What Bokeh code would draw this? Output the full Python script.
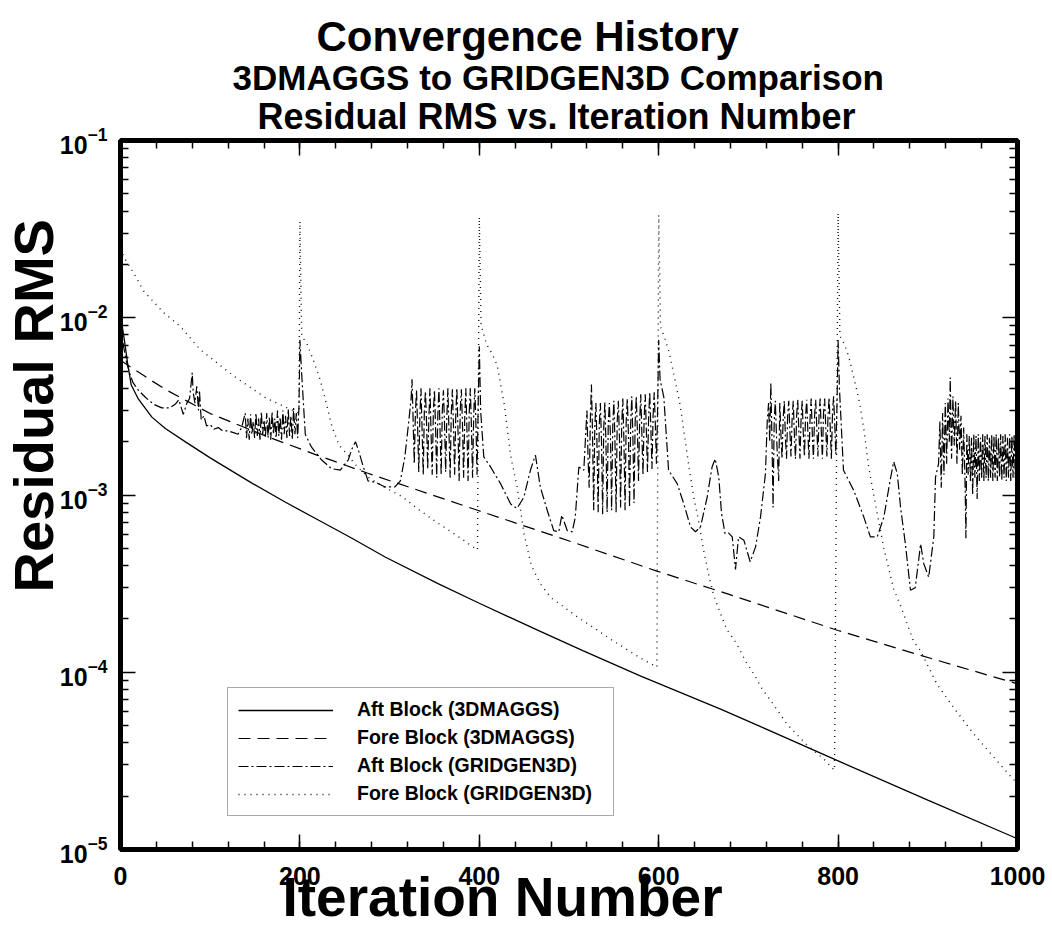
import math
from bokeh.plotting import figure
from bokeh.models import (Range1d, LinearAxis, LogAxis, FixedTicker, SingleIntervalTicker,
                          LogTickFormatter, Title, CustomJSTickFormatter)
from bokeh.embed import file_html
from bokeh.resources import INLINE

FONT = "Liberation Sans"

# ---------------- texts ----------------
TITLE = "Convergence History"
SUBTITLE_1 = "3DMAGGS to GRIDGEN3D Comparison"
SUBTITLE_2 = "Residual RMS vs. Iteration Number"
X_LABEL = "Iteration Number"
Y_LABEL = "Residual RMS"
NAMES = ["Aft Block (3DMAGGS)", "Fore Block (3DMAGGS)",
         "Aft Block (GRIDGEN3D)", "Fore Block (GRIDGEN3D)"]

# ---------------- axes ----------------
X_RANGE = (0, 1000)
Y_RANGE = (1e-5, 1e-1)
X_TICK_STEP = 200
Y_TICKS = [1e-5, 1e-4, 1e-3, 1e-2, 1e-1]
Y_MINOR = [m * 10.0 ** e for e in (-5, -4, -3, -2) for m in range(2, 10)]

# ---------------- data ----------------
AFT_3DM_IT = [0, 2, 5, 8, 12, 20, 35, 50, 72, 100, 146, 184, 221, 258, 295,
              354, 400, 468, 516, 580, 669, 713, 800, 900, 1000]
AFT_3DM_RMS = [9.55e-3, 8.9e-3, 7.08e-3, 5.5e-3, 4.17e-3, 3.47e-3, 2.75e-3, 2.37e-3,
               2.0e-3, 1.62e-3, 1.17e-3, 9.1e-4, 7.2e-4, 5.7e-4, 4.47e-4,
               3.16e-4, 2.45e-4, 1.7e-4, 1.32e-4, 9.5e-5, 6.2e-5, 4.95e-5,
               3.16e-5, 1.9e-5, 1.15e-5]

FORE_3DM_IT = [0, 15, 33, 52, 100, 163, 219, 275, 345, 398, 487, 598, 669,
               702, 800, 892, 1000]
FORE_3DM_RMS = [5.75e-3, 5.13e-3, 4.47e-3, 3.89e-3, 2.88e-3, 2.14e-3, 1.68e-3,
                1.33e-3, 1.01e-3, 8.2e-4, 5.8e-4, 3.72e-4, 2.85e-4, 2.51e-4,
                1.72e-4, 1.245e-4, 8.6e-5]

# Aft Block (GRIDGEN3D): (iteration, residual in units of 1e-3)
AFT_GG_START = [(0, 9.1), (3, 7.1), (6, 5.8), (10, 4.9), (14, 4.3), (20, 3.9),
                (28, 3.55), (37, 3.25), (46, 3.1), (55, 3.1), (61, 3.25),
                (65, 3.45), (70, 2.85), (74, 3.3), (77, 3.5), (80, 4.9),
                (81, 3.8), (83, 3.3), (85, 4.1), (87, 3.0), (88, 3.9),
                (90, 2.65), (93, 2.8), (96, 2.45), (100, 2.5), (104, 2.35),
                (109, 2.4), (114, 2.3), (120, 2.3), (126, 2.25), (131, 2.2),
                (135, 2.4)]
AFT_GG_BAND1 = [(139, 2.9), (140.5, 2.1), (142, 2.7), (143.5, 2.05), (145, 2.85),
                (146.5, 2.2), (148, 2.6), (149.5, 2.1), (151, 2.9), (152.5, 2.15),
                (154, 2.7), (155.5, 2.05), (157, 2.95), (158.5, 2.2), (160, 2.65),
                (161.5, 2.1), (163, 2.9), (164.5, 2.1), (166, 2.75), (167.5, 2.05),
                (169, 2.95), (170.5, 2.2), (172, 2.7), (173.5, 2.1), (175, 3.0),
                (176.5, 2.15), (178, 2.75), (179.5, 2.05), (181, 3.0), (182.5, 2.2),
                (184, 2.8), (185.5, 2.1), (187, 3.05), (188.5, 2.15), (190, 2.8),
                (191.5, 2.05), (193, 3.1), (194.5, 2.2), (196, 2.9), (197.5, 2.1),
                (199, 3.2), (200, 7.5)]
AFT_GG_GAP1 = [(202, 4.8), (206, 2.2), (213, 1.86), (224, 1.58), (235, 1.41),
               (245, 1.38), (254, 1.58), (258, 1.82), (262, 2.0), (266, 1.74),
               (270, 1.48), (276, 1.2), (284, 1.18), (295, 1.11), (306, 1.11),
               (312, 1.2), (317, 1.64), (321, 2.5), (324, 3.5)]
AFT_GG_BAND2 = [(325, 4.5), (326.25, 2.6), (327.5, 1.5), (328.75, 2.9), (330, 3.9),
                (331.25, 2.4), (332.5, 1.35), (333.75, 2.8), (335, 4.0), (336.25, 2.3),
                (337.5, 1.3), (338.75, 3.0), (340, 3.85), (341.25, 2.5), (342.5, 1.4),
                (343.75, 2.7), (345, 4.0), (346.25, 2.2), (347.5, 1.3), (348.75, 2.9),
                (350, 3.9), (351.25, 2.4), (352.5, 1.25), (353.75, 2.8), (355, 4.0),
                (356.25, 2.3), (357.5, 1.3), (358.75, 3.0), (360, 3.9), (361.25, 2.5),
                (362.5, 1.35), (363.75, 2.7), (365, 4.0), (366.25, 2.2), (367.5, 1.25),
                (368.75, 2.9), (370, 3.95), (371.25, 2.4), (372.5, 1.3), (373.75, 2.8),
                (375, 4.0), (376.25, 2.3), (377.5, 1.2), (378.75, 3.0), (380, 3.95),
                (381.25, 2.5), (382.5, 1.25), (383.75, 2.7), (385, 4.0), (386.25, 2.3),
                (387.5, 1.2), (388.75, 2.9), (390, 4.0), (391.25, 2.4), (392.5, 1.25),
                (393.75, 2.8), (395, 4.0), (396.25, 2.5), (397.5, 1.3), (398.75, 3.2),
                (400, 6.9)]
AFT_GG_GAP2 = [(401.5, 3.0), (405, 1.64), (412.5, 1.44), (423.6, 1.16), (435, 0.89),
               (442, 0.84), (449.6, 0.97), (457, 1.38), (462.6, 1.68), (468, 1.11),
               (475.7, 0.82), (483, 0.63), (488.6, 0.62), (492, 0.77), (498, 0.63),
               (503.6, 0.62), (507, 0.75), (511, 1.44), (516.5, 1.38)]
AFT_GG_BAND3 = [(520, 3.0), (521.25, 1.6), (522.5, 1.1), (523.75, 2.6), (525, 4.2),
                (526.25, 2.2), (527.5, 0.82), (528.75, 2.4), (530, 3.3), (531.25, 1.9),
                (532.5, 0.8), (533.75, 2.5), (535, 3.3), (536.25, 2.0), (537.5, 0.78),
                (538.75, 2.4), (540, 3.35), (541.25, 1.9), (542.5, 0.8), (543.75, 2.5),
                (545, 3.3), (546.25, 2.1), (547.5, 0.82), (548.75, 2.4), (550, 3.4),
                (551.25, 2.0), (552.5, 0.8), (553.75, 2.6), (555, 3.4), (556.25, 2.1),
                (557.5, 0.85), (558.75, 2.5), (560, 3.5), (561.25, 2.0), (562.5, 0.82),
                (563.75, 2.6), (565, 3.5), (566.25, 2.2), (567.5, 0.85), (568.75, 2.5),
                (570, 3.6), (571.25, 2.1), (572.5, 0.9), (573.75, 2.6), (575, 3.6),
                (576.25, 2.3), (577.5, 1.2), (578.75, 2.6), (580, 3.7), (581.25, 2.2),
                (582.5, 1.3), (583.75, 2.7), (585, 3.7), (586.25, 2.3), (587.5, 1.35),
                (588.75, 2.7), (590, 3.8), (591.25, 2.4), (592.5, 1.4), (593.75, 2.8),
                (595, 3.8), (596.25, 2.5), (597.5, 1.5), (598.75, 3.0), (600, 7.5)]
AFT_GG_GAP3 = [(601.5, 4.5), (605.7, 3.57), (611, 1.38), (620.6, 1.16), (628, 0.89),
               (635.5, 0.66), (641, 0.62), (646.6, 0.66), (654, 0.97), (659.5, 1.44),
               (663, 1.6), (667, 1.26), (670, 0.79), (674, 0.605), (678, 0.61),
               (682, 0.58), (685.6, 0.38), (689, 0.58), (695, 0.555), (702, 0.42),
               (708, 0.51), (713.5, 0.75), (719, 1.32)]
AFT_GG_BAND4 = [(721, 2.6), (722.5, 3.3), (723.75, 2.0), (725, 4.3), (726.25, 2.1),
                (727.5, 0.85), (728.75, 2.6), (730, 3.4), (731.25, 2.2), (732.5, 1.6),
                (733.75, 1.2), (735, 3.3), (736.25, 2.2), (737.5, 1.6), (738.75, 2.7),
                (740, 3.4), (741.25, 2.1), (742.5, 1.6), (743.75, 2.8), (745, 3.4),
                (746.25, 2.3), (747.5, 1.65), (748.75, 2.7), (750, 3.4), (751.25, 2.2),
                (752.5, 1.6), (753.75, 2.8), (755, 3.45), (756.25, 2.3), (757.5, 1.6),
                (758.75, 2.7), (760, 3.4), (761.25, 2.2), (762.5, 1.65), (763.75, 2.8),
                (765, 3.45), (766.25, 2.3), (767.5, 1.6), (768.75, 2.7), (770, 3.5),
                (771.25, 2.2), (772.5, 1.6), (773.75, 2.8), (775, 3.45), (776.25, 2.4),
                (777.5, 1.65), (778.75, 2.8), (780, 3.5), (781.25, 2.3), (782.5, 1.6),
                (783.75, 2.9), (785, 3.5), (786.25, 2.4), (787.5, 1.65), (788.75, 2.8),
                (790, 3.55), (791.25, 2.4), (792.5, 1.6), (793.75, 2.9), (795, 3.6),
                (796.25, 2.5), (797.5, 1.7), (798.75, 3.2), (800, 7.5)]
AFT_GG_GAP4 = [(801.5, 4.0), (806, 1.38), (817.5, 1.06), (828.7, 0.75), (836, 0.58),
               (843.6, 0.58), (851, 0.75), (858, 1.21), (862, 1.54), (866, 1.32),
               (869.6, 0.855), (875, 0.53), (880.7, 0.29), (886, 0.30), (892, 0.53),
               (895.5, 0.41), (901, 0.344), (906.7, 0.58), (908.6, 1.26)]
AFT_GG_BAND5 = [(912, 1.5), (913.5, 2.6), (915, 1.1), (916.5, 2.9), (918, 1.3),
                (919.5, 3.3), (921, 1.5), (922.5, 3.5), (924, 2.0), (925, 4.6),
                (926.5, 1.6), (928, 3.6), (929.5, 1.9), (931, 3.4), (932.5, 1.5),
                (934, 3.3), (935.5, 1.8), (937, 2.8), (938.5, 1.3), (940, 2.4),
                (941.5, 1.2), (942.5, 0.57), (943.5, 2.2), (945, 1.3), (946.25, 2.15),
                (947.5, 1.2), (948.75, 2.1), (950, 1.0), (951.25, 2.2), (952.5, 1.25),
                (953.75, 2.15), (955, 0.95), (956.25, 2.2), (957.5, 1.2), (958.75, 2.1),
                (960, 1.25), (961.25, 2.2), (962.5, 1.2), (963.75, 2.15), (965, 1.25),
                (966.25, 2.2), (967.5, 1.2), (968.75, 2.1), (970, 1.25), (971.25, 2.2),
                (972.5, 1.2), (973.75, 2.15), (975, 1.25), (976.25, 2.2), (977.5, 1.2),
                (978.75, 2.1), (980, 1.25), (981.25, 2.2), (982.5, 1.2), (983.75, 2.15),
                (985, 1.25), (986.25, 2.2), (987.5, 1.2), (988.75, 2.1), (990, 1.25),
                (991.25, 2.2), (992.5, 1.2), (993.75, 2.15), (995, 1.25), (996.25, 2.2),
                (997.5, 1.25), (998.75, 2.1), (1000, 1.3)]

# Fore Block (GRIDGEN3D): (iteration, residual)
FORE_GG = [(0, 2.45e-2), (4, 2.19e-2), (15, 1.78e-2), (26, 1.41e-2), (48, 1.07e-2),
           (67, 8.9e-3), (89, 6.6e-3), (126, 4.7e-3), (163, 3.5e-3), (186, 3.1e-3),
           (199, 2.9e-3), (200, 3.5e-2), (202, 7.9e-3), (208, 7.1e-3), (216, 5.6e-3),
           (223, 4.4e-3), (230, 3.2e-3), (236, 2.4e-3), (244, 1.9e-3), (251, 1.74e-3),
           (262, 1.48e-3), (276, 1.26e-3), (295, 1.1e-3), (314, 9.8e-4), (332, 8.3e-4),
           (351, 7.1e-4), (375, 5.9e-4), (398, 4.9e-4), (400, 3.7e-2), (402, 9.1e-3),
           (408, 7.1e-3), (414, 6.3e-3), (420, 5.4e-3), (428, 3.2e-3), (435, 1.66e-3),
           (442, 1.12e-3), (450, 6.0e-4), (458, 4.0e-4), (468, 3.16e-4), (480, 2.63e-4),
           (494, 2.34e-4), (510, 2.04e-4), (531, 1.74e-4), (545, 1.55e-4), (561, 1.38e-4),
           (580, 1.2e-4), (598, 1.07e-4), (600, 3.8e-2), (602, 8.9e-3), (607, 7.6e-3),
           (612, 6.3e-3), (618, 4.5e-3), (624, 3.2e-3), (628, 2.3e-3), (634, 1.41e-3),
           (639, 9.8e-4), (645, 6.9e-4), (650, 4.9e-4), (656, 3.5e-4), (661, 2.75e-4),
           (668, 2.2e-4), (676, 1.74e-4), (687, 1.45e-4), (697, 1.15e-4), (706, 9.8e-5),
           (715, 8.1e-5), (725, 6.9e-5), (743, 5.1e-5), (765, 3.9e-5), (784, 3.24e-5),
           (796, 2.8e-5), (800, 3.9e-2), (802, 7.9e-3), (807, 7.1e-3), (812, 6.0e-3),
           (818, 4.5e-3), (824, 3.3e-3), (829, 2.3e-3), (834, 1.45e-3), (840, 9.8e-4),
           (851, 5.0e-4), (862, 2.95e-4), (870, 2.35e-4), (884, 1.5e-4), (892, 1.32e-4),
           (910, 8.6e-5), (929, 6.3e-5), (951, 4.5e-5), (974, 3.3e-5), (992, 2.6e-5),
           (1000, 2.35e-5)]

AFT_GG = (AFT_GG_START + AFT_GG_BAND1 + AFT_GG_GAP1 + AFT_GG_BAND2 + AFT_GG_GAP2 +
          AFT_GG_BAND3 + AFT_GG_GAP3 + AFT_GG_BAND4 + AFT_GG_GAP4 + AFT_GG_BAND5)
AFT_GG_IT = [a for a, _ in AFT_GG]
AFT_GG_RMS = [b * 1e-3 for _, b in AFT_GG]
FORE_GG_IT = [a for a, _ in FORE_GG]
FORE_GG_RMS = [b for _, b in FORE_GG]

# ---------------- layout (page pixels) ----------------
W, H = 1050, 929
FR_L, FR_R, FR_T, FR_B = 120, 1017, 140, 849

p = figure(width=W, height=H, x_range=Range1d(*X_RANGE), y_range=Range1d(*Y_RANGE),
           y_axis_type="log", output_backend="svg", toolbar_location=None,
           min_border_left=FR_L, min_border_right=W - FR_R,
           min_border_top=FR_T, min_border_bottom=H - FR_B)
p.background_fill_color = "white"
p.border_fill_color = "white"
p.grid.visible = False
p.outline_line_color = "black"
p.outline_line_width = 5

blank = CustomJSTickFormatter(code="return ''")


def style_axis(ax, show_labels, standoff=12):
    ax.axis_line_color = None
    ax.major_tick_in = 15
    ax.major_tick_out = 0
    ax.minor_tick_in = 8
    ax.minor_tick_out = 0
    ax.major_tick_line_width = 1.5
    ax.minor_tick_line_width = 1.5
    ax.major_tick_line_color = "black"
    ax.minor_tick_line_color = "black"
    ax.major_label_text_font = FONT
    ax.major_label_text_font_style = "bold"
    ax.major_label_text_color = "black"
    if show_labels:
        ax.major_label_text_font_size = "25px"
        ax.major_label_standoff = standoff
    else:
        ax.formatter = blank
        ax.major_label_text_font_size = "1px"
        ax.major_label_standoff = 0


x_ticker = SingleIntervalTicker(interval=X_TICK_STEP, num_minor_ticks=5)
y_ticker = FixedTicker(ticks=Y_TICKS, minor_ticks=Y_MINOR)

p.xaxis[0].ticker = x_ticker
style_axis(p.xaxis[0], True, standoff=17)
p.yaxis[0].ticker = y_ticker
p.yaxis[0].formatter = LogTickFormatter()
style_axis(p.yaxis[0], True, standoff=13)

top_ax = LinearAxis(ticker=x_ticker)
style_axis(top_ax, False)
p.add_layout(top_ax, "above")
right_ax = LogAxis(ticker=y_ticker)
style_axis(right_ax, False)
p.add_layout(right_ax, "right")

# ---------------- curves ----------------
p.line(AFT_3DM_IT, AFT_3DM_RMS, line_color="black", line_width=1.3,
       legend_label=NAMES[0])
p.line(FORE_3DM_IT, FORE_3DM_RMS, line_color="black", line_width=1.2,
       line_dash="12 7", legend_label=NAMES[1])
p.line(AFT_GG_IT, AFT_GG_RMS, line_color="black", line_width=1.2,
       line_dash="10 3 2 3", legend_label=NAMES[2])
p.line(FORE_GG_IT, FORE_GG_RMS, line_color="#111111", line_width=1.4,
       line_dash="1 5", legend_label=NAMES[3])

leg = p.legend[0]
leg.location = (227 - FR_L, FR_B - 816)
leg.margin = 0
leg.padding = 10
leg.spacing = 5
leg.glyph_width = 95
leg.glyph_height = 20
leg.label_height = 20
leg.label_width = 246
leg.label_standoff = 24
leg.label_text_font = FONT
leg.label_text_font_style = "bold"
leg.label_text_font_size = "19.5px"
leg.label_text_color = "black"
leg.border_line_color = "#555555"
leg.border_line_width = 1.5
leg.background_fill_color = "white"
leg.background_fill_alpha = 1.0


# ---------------- titles & axis titles (side panels) ----------------
def add_title(text, side, size, offset, standoff, valign):
    p.add_layout(Title(text=text, text_font=FONT, text_font_style="bold",
                       text_font_size=size, text_color="black", align="left",
                       offset=offset, standoff=standoff, vertical_align=valign),
                 side)


# above: nearest to the frame first
add_title(SUBTITLE_2, "above", "36px", 137, 7, "bottom")
add_title(SUBTITLE_1, "above", "35px", 112, -13, "bottom")
add_title(TITLE, "above", "42px", 196, 6, "bottom")
add_title(X_LABEL, "below", "55px", 162, -43, "top")
add_title(Y_LABEL, "left", "56px", 257, -20, "top")

open("out.html", "w").write(file_html(p, INLINE))
